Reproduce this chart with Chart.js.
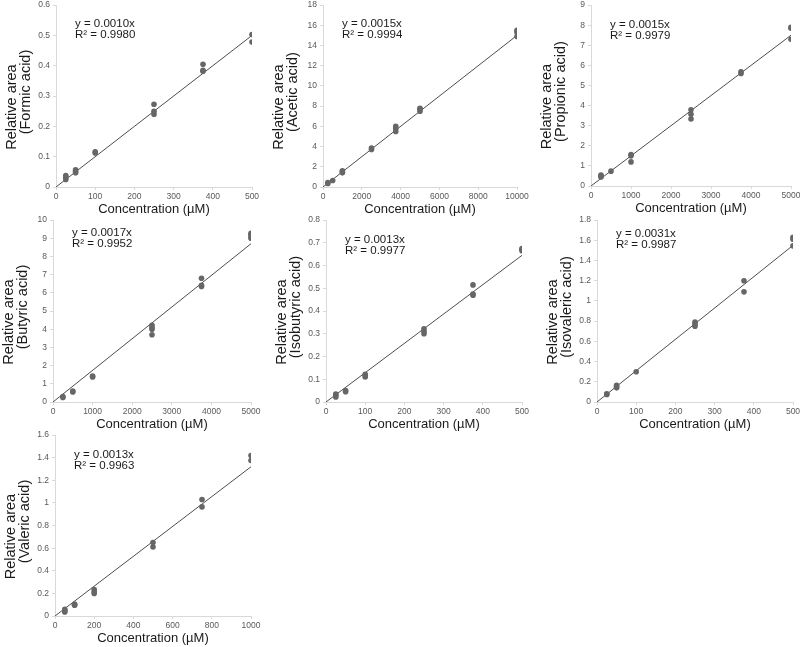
<!DOCTYPE html>
<html>
<head>
<meta charset="utf-8">
<script src="https://cdn.jsdelivr.net/npm/chart.js@4.4.1/dist/chart.umd.min.js"></script>
<style>
  html, body { margin: 0; padding: 0; background: #fff; overflow: hidden; }
  body { position: relative; width: 800px; height: 647px; }
  canvas { position: absolute; }
</style>
</head>
<body>
<script>
// calibration data (concentration in µM, relative area)
const formicConc = [25, 25, 25, 50, 50, 50, 100, 100, 250, 250, 250, 375, 375, 375, 500, 500];
const formicArea = [0.025, 0.032, 0.038, 0.047, 0.052, 0.057, 0.112, 0.116, 0.24, 0.25, 0.273, 0.382, 0.385, 0.405, 0.478, 0.503];

const aceticConc = [250, 250, 500, 1000, 1000, 1000, 2500, 2500, 3750, 3750, 3750, 5000, 5000, 5000, 10000, 10000, 10000];
const aceticArea = [0.35, 0.45, 0.65, 1.4, 1.5, 1.6, 3.7, 3.85, 5.5, 5.8, 6.0, 7.5, 7.7, 7.8, 14.9, 15.3, 15.5];

const propionicConc = [250, 250, 250, 500, 1000, 1000, 1000, 2500, 2500, 2500, 3750, 3750, 5000, 5000, 5000];
const propionicArea = [0.45, 0.5, 0.55, 0.74, 1.2, 1.5, 1.57, 3.33, 3.57, 3.79, 5.6, 5.68, 7.3, 7.85, 7.9];

const butyricConc = [250, 250, 500, 500, 1000, 1000, 2500, 2500, 2500, 2500, 3750, 3750, 3750, 5000, 5000, 5000, 5000];
const butyricArea = [0.25, 0.3, 0.55, 0.6, 1.38, 1.42, 3.7, 4.0, 4.1, 4.22, 6.35, 6.42, 6.8, 9.0, 9.1, 9.2, 9.28];

const isobutyricConc = [25, 25, 25, 50, 50, 100, 100, 100, 250, 250, 250, 375, 375, 375, 500, 500, 500];
const isobutyricArea = [0.022, 0.03, 0.035, 0.045, 0.05, 0.11, 0.116, 0.122, 0.3, 0.31, 0.322, 0.47, 0.475, 0.515, 0.665, 0.67, 0.675];

const isovalericConc = [25, 25, 50, 50, 50, 100, 250, 250, 250, 375, 375, 500, 500, 500];
const isovalericArea = [0.075, 0.08, 0.14, 0.15, 0.165, 0.30, 0.75, 0.77, 0.79, 1.09, 1.2, 1.545, 1.61, 1.63];

const valericConc = [50, 50, 50, 100, 100, 100, 200, 200, 200, 500, 500, 750, 750, 1000, 1000];
const valericArea = [0.035, 0.045, 0.06, 0.095, 0.1, 0.105, 0.2, 0.215, 0.235, 0.61, 0.65, 0.965, 1.03, 1.375, 1.42];

// fitted slopes (trend line through origin) and the printed equations
const acidNames = ['Formic acid', 'Acetic acid', 'Propionic acid', 'Butyric acid', 'Isobutyric acid', 'Isovaleric acid', 'Valeric acid'];
const slopes = [0.001, 0.0015, 0.0015, 0.00174, 0.00129, 0.0031, 0.00132];
const eqLabels = ['y = 0.0010x', 'y = 0.0015x', 'y = 0.0015x', 'y = 0.0017x', 'y = 0.0013x', 'y = 0.0031x', 'y = 0.0013x'];
const r2Labels = ['R² = 0.9980', 'R² = 0.9994', 'R² = 0.9979', 'R² = 0.9952', 'R² = 0.9977', 'R² = 0.9987', 'R² = 0.9963'];

// axis ranges
const xMax = [500, 10000, 5000, 5000, 500, 500, 1000];
const xStep = [100, 2000, 1000, 1000, 100, 100, 200];
const yMax = [0.6, 18, 9, 10, 0.8, 1.8, 1.6];
const yStep = [0.1, 2, 1, 1, 0.1, 0.2, 0.2];

const concs = [formicConc, aceticConc, propionicConc, butyricConc, isobutyricConc, isovalericConc, valericConc];
const areas = [formicArea, aceticArea, propionicArea, butyricArea, isobutyricArea, isovalericArea, valericArea];

// plot boxes on the page: [left, right, top, bottom]
const boxes = [
  [56, 252, 5, 187], [323, 517, 5, 187], [591, 791, 5, 186],
  [53, 251, 220, 402], [326, 522, 220, 402], [597, 793, 220, 402],
  [55, 251, 435, 616]
];
const eqTop = [19, 19, 20, 13, 20, 14, 20];

const FONT = "'Liberation Sans', Arial, sans-serif";
const Y_AXIS_W = 56, X_AXIS_H = 34, PAD_T = 8, PAD_R = 16;

const fmt = v => String(+v.toFixed(4));

// axis titles and the equation text
const textPlugin = {
  id: 'calText',
  afterDraw(chart, args, opts) {
    const { ctx, chartArea: a } = chart;
    ctx.save();
    ctx.fillStyle = '#1a1a1a';
    ctx.textBaseline = 'middle';

    ctx.font = '11.5px ' + FONT;
    ctx.textAlign = 'left';
    ctx.fillText(opts.eq, a.left + 19, a.top + opts.eqTop);
    ctx.fillText(opts.r2, a.left + 19, a.top + opts.eqTop + 11);

    ctx.font = '13px ' + FONT;
    ctx.textAlign = 'center';
    ctx.fillText('Concentration (µM)', (a.left + a.right) / 2, a.bottom + 22);

    ctx.translate(a.left - 44, (a.top + a.bottom) / 2);
    ctx.rotate(-Math.PI / 2);
    ctx.font = '14.5px ' + FONT;
    ctx.fillText('Relative area', -11, 0);
    ctx.fillText('(' + opts.acid + ')', 4, 14);
    ctx.restore();
  }
};

boxes.forEach((b, i) => {
  const cv = document.createElement('canvas');
  const w = b[1] - b[0] + Y_AXIS_W + PAD_R;
  const h = b[3] - b[2] + PAD_T + X_AXIS_H;
  cv.width = w;
  cv.height = h;
  cv.style.left = (b[0] - Y_AXIS_W) + 'px';
  cv.style.top = (b[2] - PAD_T) + 'px';
  cv.style.width = w + 'px';
  cv.style.height = h + 'px';
  document.body.appendChild(cv);

  const pts = concs[i].map((c, k) => ({ x: c, y: areas[i][k] }));
  const trend = [{ x: 0, y: 0 }, { x: xMax[i], y: slopes[i] * xMax[i] }];

  new Chart(cv, {
    type: 'scatter',
    data: {
      datasets: [
        {
          data: pts,
          backgroundColor: '#666666',
          borderColor: '#666666',
          pointRadius: 2.8,
          borderWidth: 0,
        },
        {
          data: trend,
          showLine: true,
          borderColor: '#4d4d4d',
          borderWidth: 1,
          pointRadius: 0,
        },
      ],
    },
    options: {
      responsive: false,
      devicePixelRatio: 1,
      animation: false,
      layout: { padding: { top: PAD_T, right: PAD_R, left: 0, bottom: 0 } },
      plugins: {
        legend: { display: false },
        tooltip: { enabled: false },
        calText: { eq: eqLabels[i], r2: r2Labels[i], acid: acidNames[i], eqTop: eqTop[i] },
      },
      scales: {
        x: {
          type: 'linear',
          min: 0,
          max: xMax[i],
          afterFit: s => { s.height = X_AXIS_H; },
          ticks: { stepSize: xStep[i], callback: fmt, color: '#595959', font: { size: 8.5, family: FONT }, padding: 2, maxRotation: 0 },
          grid: { display: true, drawOnChartArea: false, drawTicks: true, tickLength: 3, color: '#d9d9d9' },
          border: { display: true, color: '#d9d9d9', width: 1 },
        },
        y: {
          min: 0,
          max: yMax[i],
          afterFit: s => { s.width = Y_AXIS_W; },
          ticks: { stepSize: yStep[i], callback: fmt, color: '#595959', font: { size: 8.5, family: FONT }, padding: 3 },
          grid: { display: true, drawOnChartArea: false, drawTicks: true, tickLength: 3, color: '#d9d9d9' },
          border: { display: true, color: '#d9d9d9', width: 1 },
        },
      },
    },
    plugins: [textPlugin],
  });
});
</script>
</body>
</html>
